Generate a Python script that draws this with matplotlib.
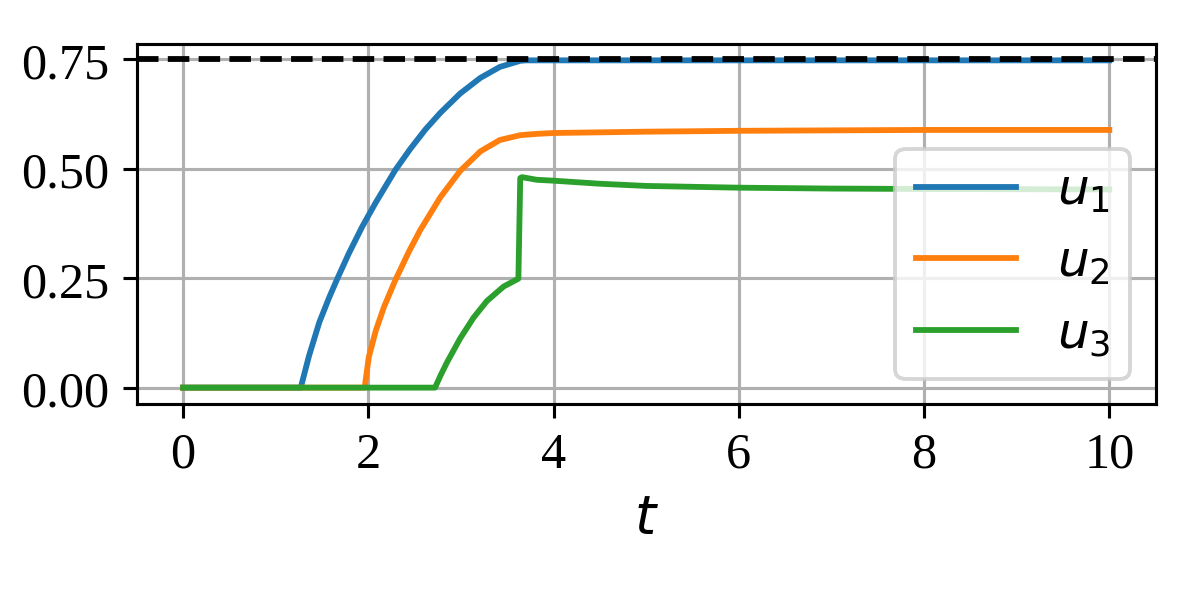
import matplotlib
matplotlib.use("Agg")
import matplotlib.pyplot as plt

plt.rcParams["font.family"] = ["Liberation Serif", "DejaVu Serif"]
plt.rcParams["mathtext.fontset"] = "dejavusans"
plt.rcParams["font.size"] = 13

# values
t_u1 = [0.0, 1.27, 1.36, 1.47, 1.575, 1.665, 1.79, 1.934, 2.077, 2.29, 2.454,
        2.616, 2.777, 2.99, 3.21, 3.42, 3.64, 3.70, 10.0]
u1 = [0.0, 0.0, 0.073, 0.149, 0.205, 0.249, 0.307, 0.368, 0.422, 0.497, 0.546,
      0.590, 0.628, 0.672, 0.708, 0.733, 0.747, 0.748, 0.748]

t_u2 = [0.0, 1.96, 2.005, 2.08, 2.17, 2.29, 2.436, 2.56, 2.777, 2.99, 3.21,
        3.42, 3.64, 3.82, 4.0, 5.0, 6.0, 8.0, 10.0]
u2 = [0.0, 0.0, 0.07, 0.13, 0.185, 0.245, 0.31, 0.36, 0.435, 0.495, 0.540,
      0.566, 0.577, 0.580, 0.582, 0.585, 0.587, 0.589, 0.589]

t_u3 = [0.0, 2.72, 2.78, 2.85, 2.99, 3.136, 3.28, 3.46, 3.62, 3.64, 3.66,
        3.82, 4.0, 4.5, 5.0, 6.0, 7.0, 8.0, 10.0]
u3 = [0.0, 0.0, 0.028, 0.058, 0.112, 0.160, 0.198, 0.231, 0.249, 0.479, 0.481,
      0.475, 0.473, 0.466, 0.461, 0.457, 0.455, 0.454, 0.453]

u_max = 0.75
x_ticks = [0, 2, 4, 6, 8, 10]
y_ticks = [0.0, 0.25, 0.5, 0.75]

fig, ax = plt.subplots(figsize=(4.3, 2.15), dpi=1200 / 4.3)
ax.plot(t_u1, u1, label=r"$u_1$")
ax.plot(t_u2, u2, label=r"$u_2$")
ax.plot(t_u3, u3, label=r"$u_3$")
ax.axhline(u_max, color="k", linestyle="--", linewidth=1.5)
ax.set_xticks(x_ticks)
ax.set_yticks(y_ticks)
ax.set_xlabel(r"$t$", fontsize=14)
ax.grid(True)
ax.legend(loc="lower right", fontsize=13)
plt.subplots_adjust(left=0.114, right=0.963, top=0.925, bottom=0.325)
plt.savefig("out.png", dpi=1200 / 4.3)
plt.close()
